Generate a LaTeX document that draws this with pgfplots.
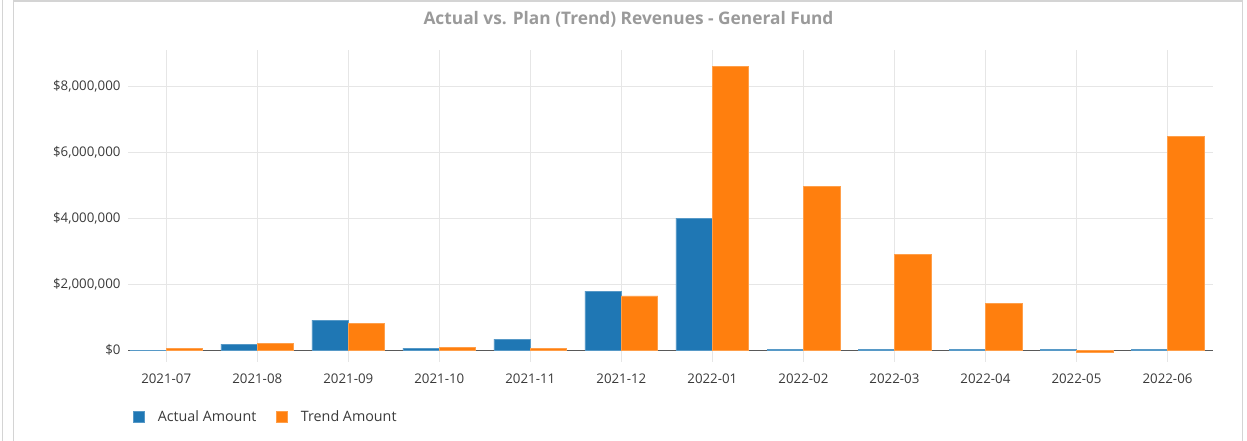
\documentclass[border=0pt]{standalone}
\usepackage{fontspec}
\setmainfont{Open Sans}
\usepackage{pgfplots}
\pgfplotsset{compat=1.18}
\definecolor{cblue}{HTML}{1F77B4}
\definecolor{corange}{HTML}{FF7F0E}
\definecolor{gridc}{HTML}{E6E6E6}
\definecolor{labc}{HTML}{3A3A3A}
\definecolor{titc}{HTML}{9A9A9A}
\definecolor{framec}{HTML}{D4D4D4}
\begin{document}
\begin{tikzpicture}[x=1pt,y=1pt]
\path[use as bounding box] (0,0) rectangle (1247,441);
\draw[framec, line width=1.5pt] (2.5,0) -- (2.5,441);
\draw[framec, line width=1.5pt] (13.5,-2) -- (13.5,440) -- (1242.5,440) -- (1242.5,-2);
\node[font=\fontsize{17.3}{20}\selectfont\bfseries, text=titc] at (628.5,421.5) {Actual vs. Plan (Trend) Revenues - General Fund};
\begin{axis}[
  at={(128pt,79pt)}, anchor=south west,
  scale only axis, width=1085pt, height=312pt,
  xmin=-0.42, xmax=11.5,
  ymin=-360000, ymax=9090000,
  axis line style={draw=none},
  major tick length=0pt,
  xtick={0,...,11},
  xticklabels={2021-07,2021-08,2021-09,2021-10,2021-11,2021-12,2022-01,2022-02,2022-03,2022-04,2022-05,2022-06},
  ytick={0,2000000,4000000,6000000,8000000},
  yticklabels={\$0,{\$2,000,000},{\$4,000,000},{\$6,000,000},{\$8,000,000}},
  xmajorgrids, ymajorgrids,
  grid style={gridc, line width=0.8pt},
  tick label style={font=\fontsize{13.3}{15}\selectfont, text=labc},
  x tick label style={yshift=-8pt},
  y tick label style={xshift=-4pt},
  scaled y ticks=false,
  ybar, bar width=0.4,
  legend style={at={(0,0)}, anchor=north west, xshift=2pt, yshift=-44pt, draw=none, fill=none,
    font=\fontsize{14.3}{16}\selectfont, text=labc, legend columns=2,
    /tikz/every odd column/.append style={column sep=11pt},
    /tikz/every even column/.append style={column sep=18pt}},
  legend image code/.code={\fill[#1] (0pt,-5.5pt) rectangle (11pt,5.5pt);},
]
\draw[gray!70!black, line width=0.8pt] (axis cs:-0.42,0) -- (axis cs:11.5,0);
\addplot[fill=cblue, draw=cblue!75!white, line width=0.6pt, bar shift=-0.2] coordinates {
(0,-15000) (1,180000) (2,910000) (3,60000) (4,330000) (5,1790000) (6,4000000) (7,10000) (8,10000) (9,10000) (10,10000) (11,10000)};
\addplot[fill=corange, draw=corange!75!white, line width=0.6pt, bar shift=0.2] coordinates {
(0,55000) (1,210000) (2,820000) (3,90000) (4,50000) (5,1640000) (6,8600000) (7,4970000) (8,2910000) (9,1420000) (10,-60000) (11,6480000)};
\legend{Actual Amount, Trend Amount}
\end{axis}
\end{tikzpicture}
\end{document}
